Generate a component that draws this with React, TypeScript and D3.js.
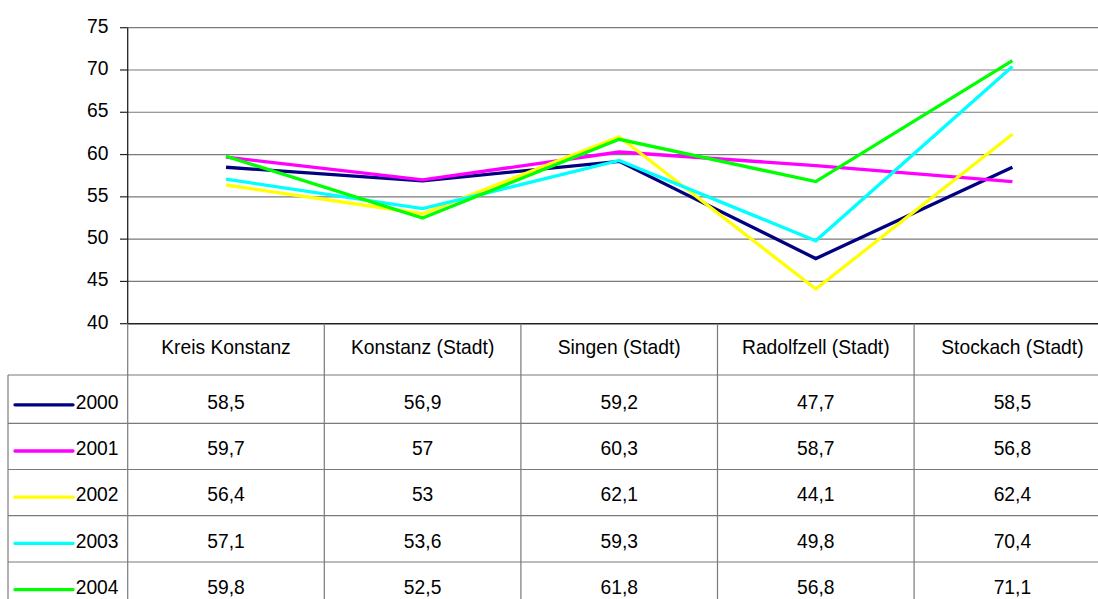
import React from "react";
import * as d3 from "d3";

const categories = ["Kreis Konstanz", "Konstanz (Stadt)", "Singen (Stadt)", "Radolfzell (Stadt)", "Stockach (Stadt)"];
const years = ["2000", "2001", "2002", "2003", "2004"];
const colors = ["#000080", "#FF00FF", "#FFFF00", "#00FFFF", "#00FF00"];
const values2000 = [58.5, 56.9, 59.2, 47.7, 58.5];
const values2001 = [59.7, 57, 60.3, 58.7, 56.8];
const values2002 = [56.4, 53, 62.1, 44.1, 62.4];
const values2003 = [57.1, 53.6, 59.3, 49.8, 70.4];
const values2004 = [59.8, 52.5, 61.8, 56.8, 71.1];
const yTicks = [40, 45, 50, 55, 60, 65, 70, 75];

const series = [values2000, values2001, values2002, values2003, values2004];

const W = 1098;
const H = 599;
const x0 = 127.7;
const colW = 196.6;
const yTop = 27.7;
const yBot = 323.7;
const FONT = "'Liberation Sans', Arial, sans-serif";
const FS = 20.5;
const SX = 0.94;

const rowBorders = [375, 423.3, 469.5, 515.7, 562];
const rowBaselines = [409, 455.2, 501.4, 547.6, 593.8];

const fmt = (v: number) => String(v).replace(".", ",");

function T({ x, y, anchor, children }: { x: number; y: number; anchor?: string; children: React.ReactNode }) {
  return (
    <text
      transform={`translate(${x},${y}) scale(${SX},1)`}
      textAnchor={anchor || "start"}
      fontSize={FS}
      fill="#000"
    >
      {children}
    </text>
  );
}

export default function App() {
  const x = d3
    .scaleBand<string>()
    .domain(categories)
    .range([x0, x0 + colW * categories.length])
    .paddingInner(0)
    .paddingOuter(0);
  const y = d3.scaleLinear().domain([40, 75]).range([yBot, yTop]);
  const cx = (i: number) => (x(categories[i]) as number) + x.bandwidth() / 2;
  const line = d3
    .line<number>()
    .x((_, i) => cx(i))
    .y((d) => y(d));

  const rightEdge = x0 + colW * categories.length;

  return (
    <svg
      width={W}
      height={H}
      style={{ position: "absolute", left: 0, top: 0, background: "#fff" }}
      fontFamily={FONT}
    >
      <rect x={0} y={0} width={W} height={H} fill="#fff" />
      {/* gridlines */}
      {yTicks.map((t) => (
        <line key={"g" + t} x1={x0} x2={rightEdge} y1={y(t)} y2={y(t)} stroke={t === 40 ? "#222" : "#7a7a7a"} strokeWidth={t === 40 ? 1.4 : 1.2} />
      ))}
      {/* y ticks and labels */}
      {yTicks.map((t) => (
        <g key={"t" + t}>
          <line x1={120} x2={x0} y1={y(t)} y2={y(t)} stroke="#222" strokeWidth={1.2} />
          <T x={108.5} y={y(t) + 5} anchor="end">
            {t}
          </T>
        </g>
      ))}
      {/* y axis */}
      <line x1={x0} x2={x0} y1={yTop} y2={yBot} stroke="#222" strokeWidth={1.3} />

      {/* table */}
      <line x1={x0} x2={x0} y1={yBot} y2={H} stroke="#7a7a7a" strokeWidth={1.2} />
      {categories.slice(1).map((c) => (
        <line key={"v" + c} x1={x(c) as number} x2={x(c) as number} y1={yBot} y2={H} stroke="#7a7a7a" strokeWidth={1.2} />
      ))}
      <line x1={8} x2={8} y1={rowBorders[0]} y2={H} stroke="#7a7a7a" strokeWidth={1.2} />
      {rowBorders.map((b, i) => (
        <line key={"h" + i} x1={8} x2={rightEdge} y1={b} y2={b} stroke="#7a7a7a" strokeWidth={1.2} />
      ))}
      {categories.map((c, i) => (
        <T key={"c" + c} x={cx(i)} y={354} anchor="middle">
          {c}
        </T>
      ))}
      {years.map((yr, i) => {
        const base = rowBaselines[i];
        return (
          <g key={"r" + yr}>
            <line x1={15} x2={73} y1={base - 4.2} y2={base - 4.2} stroke={colors[i]} strokeWidth={3.3} strokeLinecap="round" />
            <T x={118.5} y={base} anchor="end">
              {yr}
            </T>
            {series[i].map((v, j) => (
              <T key={j} x={cx(j)} y={base} anchor="middle">
                {fmt(v)}
              </T>
            ))}
          </g>
        );
      })}

      {/* lines */}
      {series.map((s, i) => (
        <path key={"l" + i} d={line(s) || ""} fill="none" stroke={colors[i]} strokeWidth={3.3} strokeLinejoin="miter" />
      ))}
    </svg>
  );
}
